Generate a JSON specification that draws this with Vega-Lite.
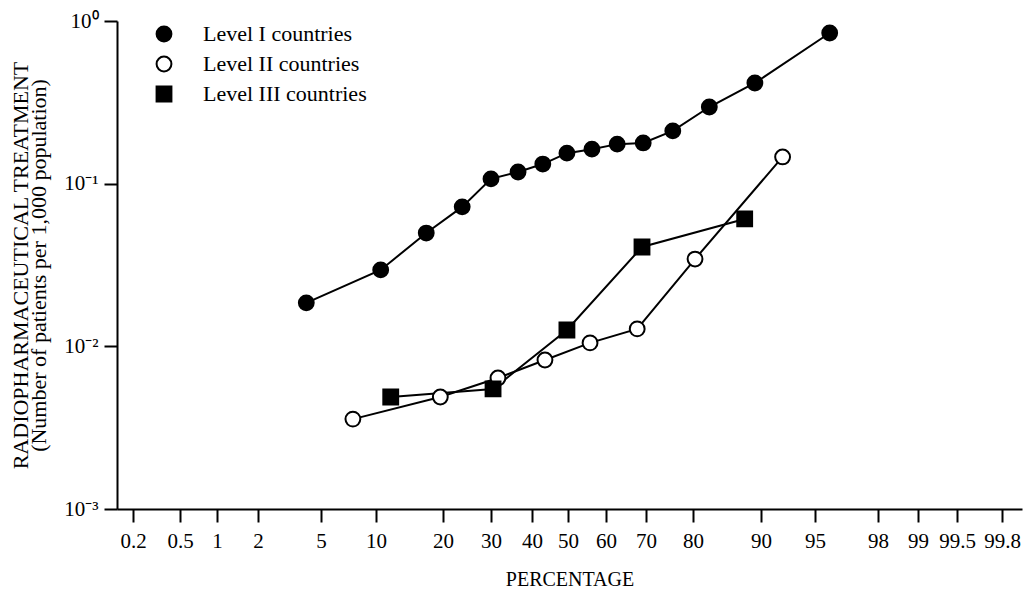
{
  "$schema": "https://vega.github.io/schema/vega-lite/v6.json",
  "width": 905,
  "height": 488,
  "autosize": {"type": "none"},
  "padding": {"left": 117, "top": 21, "right": 5, "bottom": 80},
  "background": "white",
  "config": {
    "view": {"stroke": null},
    "font": "Liberation Serif",
    "axis": {"grid": false, "domainColor": "black", "domainWidth": 2, "tickColor": "black", "tickWidth": 2, "labelColor": "black", "titleColor": "black", "labelFont": "Liberation Serif", "titleFont": "Liberation Serif", "titleFontWeight": "normal"},
    "legend": {"labelLimit": 0}
  },
  "data": {
    "values": [
      {"series": "Level I countries", "pct": 4.3, "rate": 0.0185},
      {"series": "Level I countries", "pct": 10.7, "rate": 0.0295},
      {"series": "Level I countries", "pct": 17.5, "rate": 0.0497},
      {"series": "Level I countries", "pct": 24, "rate": 0.072},
      {"series": "Level I countries", "pct": 30, "rate": 0.107},
      {"series": "Level I countries", "pct": 36.6, "rate": 0.118},
      {"series": "Level I countries", "pct": 43, "rate": 0.132},
      {"series": "Level I countries", "pct": 49.7, "rate": 0.154},
      {"series": "Level I countries", "pct": 56.3, "rate": 0.163},
      {"series": "Level I countries", "pct": 62.8, "rate": 0.175},
      {"series": "Level I countries", "pct": 69.3, "rate": 0.178},
      {"series": "Level I countries", "pct": 75.7, "rate": 0.211},
      {"series": "Level I countries", "pct": 82.4, "rate": 0.296},
      {"series": "Level I countries", "pct": 89.1, "rate": 0.416},
      {"series": "Level I countries", "pct": 95.7, "rate": 0.844},
      {"series": "Level II countries", "pct": 7.9, "rate": 0.00357},
      {"series": "Level II countries", "pct": 19.6, "rate": 0.00488},
      {"series": "Level II countries", "pct": 31.7, "rate": 0.00639},
      {"series": "Level II countries", "pct": 43.6, "rate": 0.00824},
      {"series": "Level II countries", "pct": 55.8, "rate": 0.0105},
      {"series": "Level II countries", "pct": 67.8, "rate": 0.0128},
      {"series": "Level II countries", "pct": 80.3, "rate": 0.0344},
      {"series": "Level II countries", "pct": 92.0, "rate": 0.146},
      {"series": "Level III countries", "pct": 12.2, "rate": 0.00488},
      {"series": "Level III countries", "pct": 30.5, "rate": 0.00547},
      {"series": "Level III countries", "pct": 49.7, "rate": 0.0126},
      {"series": "Level III countries", "pct": 69, "rate": 0.0408},
      {"series": "Level III countries", "pct": 87.6, "rate": 0.0607}
    ]
  },
  "encoding": {
    "x": {
      "field": "pct", "type": "quantitative",
      "scale": {
        "type": "linear", "zero": false, "nice": false,
        "domain": [0.1, 0.2, 0.5, 1, 2, 5, 10, 20, 30, 40, 50, 60, 70, 80, 90, 95, 98, 99, 99.5, 99.8, 99.9],
        "range": [0, 16, 63, 100, 141, 204, 259, 326, 374, 415, 451, 489, 529, 576, 644, 698, 761, 801, 840, 885, 905]
      },
      "axis": {
        "title": "PERCENTAGE",
        "values": [0.2, 0.5, 1, 2, 5, 10, 20, 30, 40, 50, 60, 70, 80, 90, 95, 98, 99, 99.5, 99.8],
        "format": ".3~g",
        "labelOverlap": false,
        "labelFontSize": 21,
        "labelPadding": 8,
        "tickSize": 13,
        "titleFontSize": 20,
        "titlePadding": 18
      }
    },
    "y": {
      "field": "rate", "type": "quantitative",
      "scale": {"type": "log", "domain": [0.001, 1], "nice": false},
      "axis": {
        "title": ["RADIOPHARMACEUTICAL TREATMENT", "(Number of patients per 1,000 population)"],
        "values": [0.001, 0.01, 0.1, 1],
        "labelExpr": "datum.value > 0.5 ? '10⁰' : datum.value > 0.05 ? '10⁻¹' : datum.value > 0.005 ? '10⁻²' : '10⁻³'",
        "labelFontSize": 21,
        "labelPadding": 6,
        "tickSize": 13,
        "titleFontSize": 22,
        "titleLineHeight": 18,
        "titlePadding": 13
      }
    }
  },
  "layer": [
    {
      "mark": {"type": "line", "color": "black", "strokeWidth": 2},
      "encoding": {"detail": {"field": "series"}}
    },
    {
      "mark": {"type": "point", "filled": false, "strokeWidth": 2, "size": 220, "opacity": 1},
      "encoding": {
        "shape": {
          "field": "series", "type": "nominal",
          "scale": {"domain": ["Level I countries", "Level II countries", "Level III countries"], "range": ["circle", "circle", "square"]},
          "legend": {"title": null, "orient": "none", "legendX": 36, "legendY": 2, "labelFontSize": 22, "labelFont": "Liberation Serif", "labelColor": "black", "labelOffset": 28, "rowPadding": 6, "symbolSize": 220, "symbolStrokeWidth": 2, "labelLimit": 0}
        },
        "fill": {
          "field": "series", "type": "nominal",
          "scale": {"domain": ["Level I countries", "Level II countries", "Level III countries"], "range": ["black", "white", "black"]},
          "legend": {"title": null, "orient": "none", "legendX": 36, "legendY": 2, "labelFontSize": 22, "labelFont": "Liberation Serif", "labelColor": "black", "labelOffset": 28, "rowPadding": 6, "symbolSize": 220, "symbolStrokeWidth": 2, "labelLimit": 0}
        },
        "stroke": {
          "field": "series", "type": "nominal",
          "scale": {"domain": ["Level I countries", "Level II countries", "Level III countries"], "range": ["black", "black", "black"]},
          "legend": {"title": null, "orient": "none", "legendX": 36, "legendY": 2, "labelFontSize": 22, "labelFont": "Liberation Serif", "labelColor": "black", "labelOffset": 28, "rowPadding": 6, "symbolSize": 220, "symbolStrokeWidth": 2, "labelLimit": 0}
        }
      }
    }
  ]
}
